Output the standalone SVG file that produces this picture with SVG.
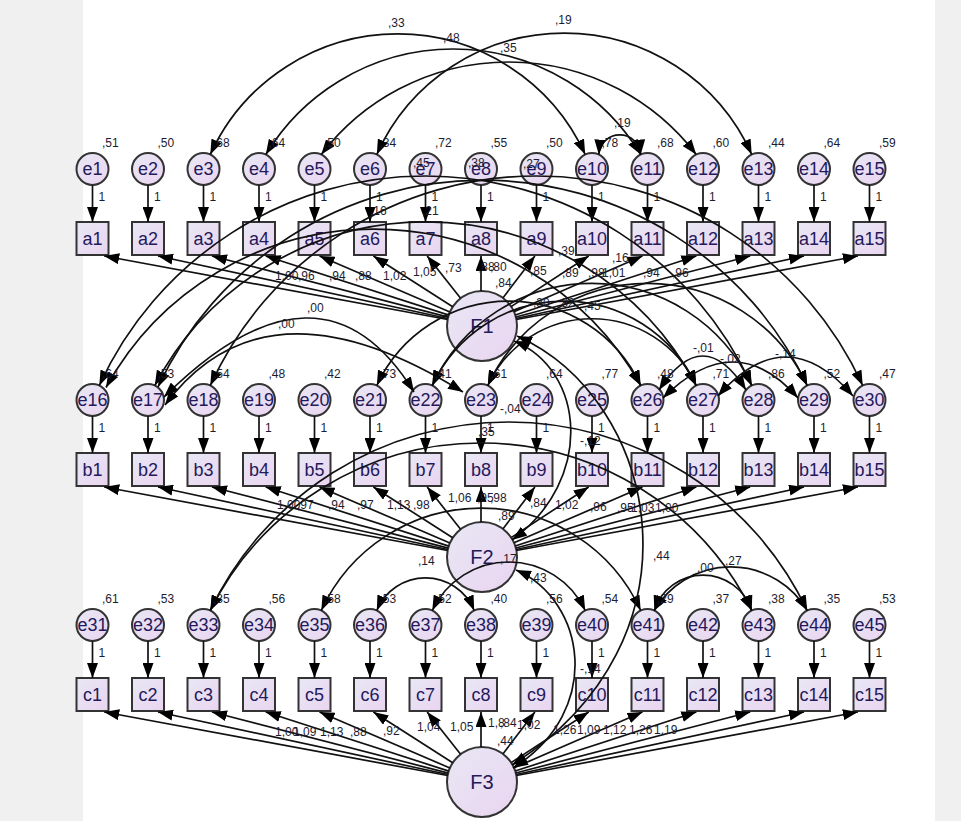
<svg xmlns="http://www.w3.org/2000/svg" width="961" height="821" viewBox="0 0 961 821">
<defs>
<linearGradient id="g" x1="0" y1="0" x2="1" y2="1"><stop offset="0" stop-color="#e8e8f5"/><stop offset="1" stop-color="#ead4f0"/></linearGradient>
<marker id="ar" viewBox="0 0 15 11" refX="15" refY="5.5" markerWidth="15" markerHeight="11" markerUnits="userSpaceOnUse" orient="auto-start-reverse"><path d="M0,0L15,5.5L0,11z" fill="#000"/></marker>
<style>
.nd circle,.nd rect{fill:url(#g);stroke:#333;stroke-width:2}
.nd text{font-family:"Liberation Sans",Arial,sans-serif;font-size:18px;fill:#24195a;text-anchor:middle}
.lt text{font-size:20px}
.cn path{fill:none;stroke:#111;stroke-width:1.7}
.one{marker-end:url(#ar)}
.two{marker-start:url(#ar);marker-end:url(#ar)}
.num text{font-family:"Liberation Sans",Arial,sans-serif;font-size:12px;fill:#1c1c30}
</style>
</defs>
<rect x="0" y="0" width="961" height="821" fill="#f0f0f0"/>
<rect x="83" y="0" width="852" height="821" fill="#ffffff"/>

<g id="nodes" class="nd">
<g id="e1"><circle cx="92.5" cy="169" r="16"/><text x="92.5" y="175">e1</text></g>
<g id="e2"><circle cx="148" cy="169" r="16"/><text x="148" y="175">e2</text></g>
<g id="e3"><circle cx="203.5" cy="169" r="16"/><text x="203.5" y="175">e3</text></g>
<g id="e4"><circle cx="259" cy="169" r="16"/><text x="259" y="175">e4</text></g>
<g id="e5"><circle cx="314.5" cy="169" r="16"/><text x="314.5" y="175">e5</text></g>
<g id="e6"><circle cx="370" cy="169" r="16"/><text x="370" y="175">e6</text></g>
<g id="e7"><circle cx="425.5" cy="169" r="16"/><text x="425.5" y="175">e7</text></g>
<g id="e8"><circle cx="481" cy="169" r="16"/><text x="481" y="175">e8</text></g>
<g id="e9"><circle cx="536.5" cy="169" r="16"/><text x="536.5" y="175">e9</text></g>
<g id="e10"><circle cx="592" cy="169" r="16"/><text x="592" y="175">e10</text></g>
<g id="e11"><circle cx="647.5" cy="169" r="16"/><text x="647.5" y="175">e11</text></g>
<g id="e12"><circle cx="703" cy="169" r="16"/><text x="703" y="175">e12</text></g>
<g id="e13"><circle cx="758.5" cy="169" r="16"/><text x="758.5" y="175">e13</text></g>
<g id="e14"><circle cx="814" cy="169" r="16"/><text x="814" y="175">e14</text></g>
<g id="e15"><circle cx="869.5" cy="169" r="16"/><text x="869.5" y="175">e15</text></g>

<g id="a1"><rect x="76.5" y="222" width="32" height="33"/><text x="92.5" y="245">a1</text></g>
<g id="a2"><rect x="132" y="222" width="32" height="33"/><text x="148" y="245">a2</text></g>
<g id="a3"><rect x="187.5" y="222" width="32" height="33"/><text x="203.5" y="245">a3</text></g>
<g id="a4"><rect x="243" y="222" width="32" height="33"/><text x="259" y="245">a4</text></g>
<g id="a5"><rect x="298.5" y="222" width="32" height="33"/><text x="314.5" y="245">a5</text></g>
<g id="a6"><rect x="354" y="222" width="32" height="33"/><text x="370" y="245">a6</text></g>
<g id="a7"><rect x="409.5" y="222" width="32" height="33"/><text x="425.5" y="245">a7</text></g>
<g id="a8"><rect x="465" y="222" width="32" height="33"/><text x="481" y="245">a8</text></g>
<g id="a9"><rect x="520.5" y="222" width="32" height="33"/><text x="536.5" y="245">a9</text></g>
<g id="a10"><rect x="576" y="222" width="32" height="33"/><text x="592" y="245">a10</text></g>
<g id="a11"><rect x="631.5" y="222" width="32" height="33"/><text x="647.5" y="245">a11</text></g>
<g id="a12"><rect x="687" y="222" width="32" height="33"/><text x="703" y="245">a12</text></g>
<g id="a13"><rect x="742.5" y="222" width="32" height="33"/><text x="758.5" y="245">a13</text></g>
<g id="a14"><rect x="798" y="222" width="32" height="33"/><text x="814" y="245">a14</text></g>
<g id="a15"><rect x="853.5" y="222" width="32" height="33"/><text x="869.5" y="245">a15</text></g>

<g id="e16"><circle cx="92.5" cy="400" r="16"/><text x="92.5" y="406">e16</text></g>
<g id="e17"><circle cx="148" cy="400" r="16"/><text x="148" y="406">e17</text></g>
<g id="e18"><circle cx="203.5" cy="400" r="16"/><text x="203.5" y="406">e18</text></g>
<g id="e19"><circle cx="259" cy="400" r="16"/><text x="259" y="406">e19</text></g>
<g id="e20"><circle cx="314.5" cy="400" r="16"/><text x="314.5" y="406">e20</text></g>
<g id="e21"><circle cx="370" cy="400" r="16"/><text x="370" y="406">e21</text></g>
<g id="e22"><circle cx="425.5" cy="400" r="16"/><text x="425.5" y="406">e22</text></g>
<g id="e23"><circle cx="481" cy="400" r="16"/><text x="481" y="406">e23</text></g>
<g id="e24"><circle cx="536.5" cy="400" r="16"/><text x="536.5" y="406">e24</text></g>
<g id="e25"><circle cx="592" cy="400" r="16"/><text x="592" y="406">e25</text></g>
<g id="e26"><circle cx="647.5" cy="400" r="16"/><text x="647.5" y="406">e26</text></g>
<g id="e27"><circle cx="703" cy="400" r="16"/><text x="703" y="406">e27</text></g>
<g id="e28"><circle cx="758.5" cy="400" r="16"/><text x="758.5" y="406">e28</text></g>
<g id="e29"><circle cx="814" cy="400" r="16"/><text x="814" y="406">e29</text></g>
<g id="e30"><circle cx="869.5" cy="400" r="16"/><text x="869.5" y="406">e30</text></g>

<g id="b1"><rect x="76.5" y="453" width="32" height="33"/><text x="92.5" y="476">b1</text></g>
<g id="b2"><rect x="132" y="453" width="32" height="33"/><text x="148" y="476">b2</text></g>
<g id="b3"><rect x="187.5" y="453" width="32" height="33"/><text x="203.5" y="476">b3</text></g>
<g id="b4"><rect x="243" y="453" width="32" height="33"/><text x="259" y="476">b4</text></g>
<g id="b5"><rect x="298.5" y="453" width="32" height="33"/><text x="314.5" y="476">b5</text></g>
<g id="b6"><rect x="354" y="453" width="32" height="33"/><text x="370" y="476">b6</text></g>
<g id="b7"><rect x="409.5" y="453" width="32" height="33"/><text x="425.5" y="476">b7</text></g>
<g id="b8"><rect x="465" y="453" width="32" height="33"/><text x="481" y="476">b8</text></g>
<g id="b9"><rect x="520.5" y="453" width="32" height="33"/><text x="536.5" y="476">b9</text></g>
<g id="b10"><rect x="576" y="453" width="32" height="33"/><text x="592" y="476">b10</text></g>
<g id="b11"><rect x="631.5" y="453" width="32" height="33"/><text x="647.5" y="476">b11</text></g>
<g id="b12"><rect x="687" y="453" width="32" height="33"/><text x="703" y="476">b12</text></g>
<g id="b13"><rect x="742.5" y="453" width="32" height="33"/><text x="758.5" y="476">b13</text></g>
<g id="b14"><rect x="798" y="453" width="32" height="33"/><text x="814" y="476">b14</text></g>
<g id="b15"><rect x="853.5" y="453" width="32" height="33"/><text x="869.5" y="476">b15</text></g>

<g id="e31"><circle cx="92.5" cy="625" r="16"/><text x="92.5" y="631">e31</text></g>
<g id="e32"><circle cx="148" cy="625" r="16"/><text x="148" y="631">e32</text></g>
<g id="e33"><circle cx="203.5" cy="625" r="16"/><text x="203.5" y="631">e33</text></g>
<g id="e34"><circle cx="259" cy="625" r="16"/><text x="259" y="631">e34</text></g>
<g id="e35"><circle cx="314.5" cy="625" r="16"/><text x="314.5" y="631">e35</text></g>
<g id="e36"><circle cx="370" cy="625" r="16"/><text x="370" y="631">e36</text></g>
<g id="e37"><circle cx="425.5" cy="625" r="16"/><text x="425.5" y="631">e37</text></g>
<g id="e38"><circle cx="481" cy="625" r="16"/><text x="481" y="631">e38</text></g>
<g id="e39"><circle cx="536.5" cy="625" r="16"/><text x="536.5" y="631">e39</text></g>
<g id="e40"><circle cx="592" cy="625" r="16"/><text x="592" y="631">e40</text></g>
<g id="e41"><circle cx="647.5" cy="625" r="16"/><text x="647.5" y="631">e41</text></g>
<g id="e42"><circle cx="703" cy="625" r="16"/><text x="703" y="631">e42</text></g>
<g id="e43"><circle cx="758.5" cy="625" r="16"/><text x="758.5" y="631">e43</text></g>
<g id="e44"><circle cx="814" cy="625" r="16"/><text x="814" y="631">e44</text></g>
<g id="e45"><circle cx="869.5" cy="625" r="16"/><text x="869.5" y="631">e45</text></g>

<g id="c1"><rect x="76.5" y="678" width="32" height="33"/><text x="92.5" y="701">c1</text></g>
<g id="c2"><rect x="132" y="678" width="32" height="33"/><text x="148" y="701">c2</text></g>
<g id="c3"><rect x="187.5" y="678" width="32" height="33"/><text x="203.5" y="701">c3</text></g>
<g id="c4"><rect x="243" y="678" width="32" height="33"/><text x="259" y="701">c4</text></g>
<g id="c5"><rect x="298.5" y="678" width="32" height="33"/><text x="314.5" y="701">c5</text></g>
<g id="c6"><rect x="354" y="678" width="32" height="33"/><text x="370" y="701">c6</text></g>
<g id="c7"><rect x="409.5" y="678" width="32" height="33"/><text x="425.5" y="701">c7</text></g>
<g id="c8"><rect x="465" y="678" width="32" height="33"/><text x="481" y="701">c8</text></g>
<g id="c9"><rect x="520.5" y="678" width="32" height="33"/><text x="536.5" y="701">c9</text></g>
<g id="c10"><rect x="576" y="678" width="32" height="33"/><text x="592" y="701">c10</text></g>
<g id="c11"><rect x="631.5" y="678" width="32" height="33"/><text x="647.5" y="701">c11</text></g>
<g id="c12"><rect x="687" y="678" width="32" height="33"/><text x="703" y="701">c12</text></g>
<g id="c13"><rect x="742.5" y="678" width="32" height="33"/><text x="758.5" y="701">c13</text></g>
<g id="c14"><rect x="798" y="678" width="32" height="33"/><text x="814" y="701">c14</text></g>
<g id="c15"><rect x="853.5" y="678" width="32" height="33"/><text x="869.5" y="701">c15</text></g>

<g id="F1" class="lt"><circle cx="482" cy="326" r="35"/><text x="482" y="333">F1</text></g>
<g id="F2" class="lt"><circle cx="482" cy="557" r="35"/><text x="482" y="564">F2</text></g>
<g id="F3" class="lt"><circle cx="482" cy="782" r="35"/><text x="482" y="789">F3</text></g>
</g>

<g id="connectors" class="cn">
<g id="err-paths-1" class="one">
<path d="M92.5,185V222"/><path d="M148,185V222"/><path d="M203.5,185V222"/><path d="M259,185V222"/><path d="M314.5,185V222"/>
<path d="M370,185V222"/><path d="M425.5,185V222"/><path d="M481,185V222"/><path d="M536.5,185V222"/><path d="M592,185V222"/>
<path d="M647.5,185V222"/><path d="M703,185V222"/><path d="M758.5,185V222"/><path d="M814,185V222"/><path d="M869.5,185V222"/>
</g>
<g id="err-paths-2" class="one" transform="translate(0,231)">
<path d="M92.5,185V222"/><path d="M148,185V222"/><path d="M203.5,185V222"/><path d="M259,185V222"/><path d="M314.5,185V222"/>
<path d="M370,185V222"/><path d="M425.5,185V222"/><path d="M481,185V222"/><path d="M536.5,185V222"/><path d="M592,185V222"/>
<path d="M647.5,185V222"/><path d="M703,185V222"/><path d="M758.5,185V222"/><path d="M814,185V222"/><path d="M869.5,185V222"/>
</g>
<g id="err-paths-3" class="one" transform="translate(0,456)">
<path d="M92.5,185V222"/><path d="M148,185V222"/><path d="M203.5,185V222"/><path d="M259,185V222"/><path d="M314.5,185V222"/>
<path d="M370,185V222"/><path d="M425.5,185V222"/><path d="M481,185V222"/><path d="M536.5,185V222"/><path d="M592,185V222"/>
<path d="M647.5,185V222"/><path d="M703,185V222"/><path d="M758.5,185V222"/><path d="M814,185V222"/><path d="M869.5,185V222"/>
</g>

<g id="loadings-F1" class="one">
<path d="M447.6,319.5L104.2,256"/><path d="M447.8,318.5L158,256"/><path d="M448.2,317.1L211.9,256"/><path d="M448.8,315.1L265.7,256"/><path d="M449.9,312L319.5,256"/>
<path d="M452.7,306.8L373.4,256"/><path d="M460.6,298.3L427.2,256"/><path d="M481,291L481,256"/><path d="M502.9,297.9L534.9,256"/><path d="M511.1,306.6L588.7,256"/>
<path d="M514,311.8L642.5,256"/><path d="M515.2,315L696.4,256"/><path d="M515.8,317L750.2,256"/><path d="M516.2,318.5L804,256"/><path d="M516.4,319.5L857.9,256"/>
</g>
<g id="loadings-F2" class="one" transform="translate(0,231)">
<path d="M447.6,319.5L104.2,256"/><path d="M447.8,318.5L158,256"/><path d="M448.2,317.1L211.9,256"/><path d="M448.8,315.1L265.7,256"/><path d="M449.9,312L319.5,256"/>
<path d="M452.7,306.8L373.4,256"/><path d="M460.6,298.3L427.2,256"/><path d="M481,291L481,256"/><path d="M502.9,297.9L534.9,256"/><path d="M511.1,306.6L588.7,256"/>
<path d="M514,311.8L642.5,256"/><path d="M515.2,315L696.4,256"/><path d="M515.8,317L750.2,256"/><path d="M516.2,318.5L804,256"/><path d="M516.4,319.5L857.9,256"/>
</g>
<g id="loadings-F3" class="one" transform="translate(0,456)">
<path d="M447.6,319.5L104.2,256"/><path d="M447.8,318.5L158,256"/><path d="M448.2,317.1L211.9,256"/><path d="M448.8,315.1L265.7,256"/><path d="M449.9,312L319.5,256"/>
<path d="M452.7,306.8L373.4,256"/><path d="M460.6,298.3L427.2,256"/><path d="M481,291L481,256"/><path d="M502.9,297.9L534.9,256"/><path d="M511.1,306.6L588.7,256"/>
<path d="M514,311.8L642.5,256"/><path d="M515.2,315L696.4,256"/><path d="M515.8,317L750.2,256"/><path d="M516.2,318.5L804,256"/><path d="M516.4,319.5L857.9,256"/>
</g>

<g id="covariances" class="two">
<path d="M210.3,154.5A206,206 0 0 1 585.2,154.5"/>
<path d="M265.8,154.5A219.3,219.3 0 0 1 640.7,154.5"/>
<path d="M321.3,154.5A236.2,236.2 0 0 1 696.2,154.5"/>
<path d="M376.8,154.5A205.4,205.4 0 0 1 751.7,154.5"/>
<path d="M598.8,154.5A21,21 0 0 1 640.7,154.5"/>

<path d="M99.3,385.5A358.7,358.7 0 0 1 751.7,385.5"/>
<path d="M106,387.5A305.8,305.8 0 0 1 640.7,385.5"/>
<path d="M154.8,385.5A305.8,305.8 0 0 1 696.2,385.5"/>
<path d="M158,387A358.7,358.7 0 0 1 807.2,385.5"/>
<path d="M210.3,385.5A358.7,358.7 0 0 1 862.7,385.5"/>
<path d="M164,397Q321,241.5 414,392"/>
<path d="M165,405Q266,269.5 463,392"/>
<path d="M376.8,385.5A145.3,145.3 0 0 1 640.7,385.5"/>
<path d="M432.3,385.5A145.3,145.3 0 0 1 696.2,385.5"/>
<path d="M432.3,385.5A176,176 0 0 1 751.7,385.5"/>
<path d="M487.8,385.5A114.7,114.7 0 0 1 696.2,385.5"/>
<path d="M487.8,385.5A176,176 0 0 1 807.2,385.5"/>
<path d="M659,390Q703,322 746,390"/>
<path d="M663,398Q735,326 798,398"/>
<path d="M718,396Q786,318 853,396"/>

<path d="M210.3,610.5A302.5,302.5 0 0 1 751.7,610.5"/>
<path d="M210.3,610.5A330.5,330.5 0 0 1 807.2,610.5"/>
<path d="M321.3,610.5A175.7,175.7 0 0 1 640.7,610.5"/>
<path d="M376.8,610.5A52.7,52.7 0 0 1 474.2,610.5"/>
<path d="M432.3,610.5A84.5,84.5 0 0 1 585.2,610.5"/>
<path d="M654.3,610.5A51.2,51.2 0 0 1 751.7,610.5"/>
<path d="M654.3,610.5A88.9,88.9 0 0 1 807.2,610.5"/>

<path d="M514,341C585,370 595,480 512,540"/>
<path d="M517,336C660,400 710,640 512,765"/>
<path d="M516,570C585,600 605,710 513,768"/>
</g>
</g>

<g id="labels" class="num">
<text x="102" y="147">,51</text><text x="157.5" y="147">,50</text><text x="213" y="147">,68</text><text x="268.5" y="147">,64</text><text x="324" y="147">,50</text>
<text x="379.5" y="147">,34</text><text x="435" y="147">,72</text><text x="490.5" y="147">,55</text><text x="546" y="147">,50</text><text x="601.5" y="147">,78</text>
<text x="657" y="147">,68</text><text x="712.5" y="147">,60</text><text x="768" y="147">,44</text><text x="823.5" y="147">,64</text><text x="879" y="147">,59</text>

<text x="102" y="378">,64</text><text x="157.5" y="378">,53</text><text x="213" y="378">,54</text><text x="268.5" y="378">,48</text><text x="324" y="378">,42</text>
<text x="379.5" y="378">,73</text><text x="435" y="378">,41</text><text x="490.5" y="378">,61</text><text x="546" y="378">,64</text><text x="601.5" y="378">,77</text>
<text x="657" y="378">,48</text><text x="712.5" y="378">,71</text><text x="768" y="378">,86</text><text x="823.5" y="378">,52</text><text x="879" y="378">,47</text>

<text x="102" y="603">,61</text><text x="157.5" y="603">,53</text><text x="213" y="603">,35</text><text x="268.5" y="603">,56</text><text x="324" y="603">,58</text>
<text x="379.5" y="603">,53</text><text x="435" y="603">,52</text><text x="490.5" y="603">,40</text><text x="546" y="603">,56</text><text x="601.5" y="603">,54</text>
<text x="657" y="603">,29</text><text x="712.5" y="603">,37</text><text x="768" y="603">,38</text><text x="823.5" y="603">,35</text><text x="879" y="603">,53</text>

<text x="98.5" y="201">1</text><text x="154" y="201">1</text><text x="209.5" y="201">1</text><text x="265" y="201">1</text><text x="320.5" y="201">1</text>
<text x="376" y="201">1</text><text x="431.5" y="201">1</text><text x="487" y="201">1</text><text x="542.5" y="201">1</text><text x="598" y="201">1</text>
<text x="653.5" y="201">1</text><text x="709" y="201">1</text><text x="764.5" y="201">1</text><text x="820" y="201">1</text><text x="875.5" y="201">1</text>
<text x="98.5" y="432">1</text><text x="154" y="432">1</text><text x="209.5" y="432">1</text><text x="265" y="432">1</text><text x="320.5" y="432">1</text>
<text x="376" y="432">1</text><text x="431.5" y="432">1</text><text x="487" y="432">1</text><text x="542.5" y="432">1</text><text x="598" y="432">1</text>
<text x="653.5" y="432">1</text><text x="709" y="432">1</text><text x="764.5" y="432">1</text><text x="820" y="432">1</text><text x="875.5" y="432">1</text>
<text x="98.5" y="657">1</text><text x="154" y="657">1</text><text x="209.5" y="657">1</text><text x="265" y="657">1</text><text x="320.5" y="657">1</text>
<text x="376" y="657">1</text><text x="431.5" y="657">1</text><text x="487" y="657">1</text><text x="542.5" y="657">1</text><text x="598" y="657">1</text>
<text x="653.5" y="657">1</text><text x="709" y="657">1</text><text x="764.5" y="657">1</text><text x="820" y="657">1</text><text x="875.5" y="657">1</text>

<text x="388" y="27">,33</text><text x="443" y="42">,48</text><text x="500" y="52">,35</text><text x="555" y="24">,19</text><text x="614" y="127">,19</text>
<text x="413" y="167">,45</text><text x="468" y="167">,38</text><text x="523" y="168">,27</text><text x="370" y="215">,16</text><text x="422" y="215">,21</text>
<text x="307" y="312">,00</text><text x="278" y="328">,00</text>
<text x="693" y="352">-,01</text><text x="720" y="363">-,02</text><text x="775" y="358">-,14</text>
<text x="533" y="307">,30</text><text x="558" y="307">,82</text><text x="584" y="310">,45</text>
<text x="558" y="255">,39</text><text x="612" y="262">,16</text>
<text x="500" y="413">-,04</text><text x="478" y="436">,35</text><text x="580" y="445">-,12</text>
<text x="653" y="560">,44</text><text x="725" y="565">,27</text><text x="697" y="572">,00</text><text x="418" y="565">,14</text>
<text x="530" y="582">,43</text><text x="500" y="563">,17</text><text x="580" y="673">-,14</text>
<text x="495" y="287">,84</text><text x="498" y="520">,89</text><text x="497" y="745">,44</text>

<text x="275" y="280">1,00</text><text x="298" y="280">,96</text><text x="329" y="280">,94</text><text x="355" y="280">,88</text><text x="383" y="280">1,02</text>
<text x="413" y="276">1,05</text><text x="445" y="272">,73</text><text x="478" y="271">,88</text><text x="490" y="271">,80</text><text x="530" y="275">,85</text>
<text x="562" y="277">,89</text><text x="588" y="277">,98</text><text x="602" y="277">1,01</text><text x="643" y="277">,94</text><text x="672" y="277">,96</text>

<text x="277" y="509">1,00</text><text x="297" y="509">,97</text><text x="328" y="509">,94</text><text x="357" y="509">,97</text><text x="387" y="509">1,13</text>
<text x="413" y="509">,98</text><text x="448" y="502">1,06</text><text x="477" y="502">,95</text><text x="490" y="502">,98</text><text x="530" y="507">,84</text>
<text x="555" y="509">1,02</text><text x="590" y="511">,96</text><text x="617" y="512">,95</text><text x="631" y="512">1,03</text><text x="655" y="512">1,00</text>

<text x="275" y="736">1,00</text><text x="293" y="736">1,09</text><text x="320" y="736">1,13</text><text x="350" y="736">,88</text><text x="383" y="735">,92</text>
<text x="417" y="731">1,04</text><text x="450" y="731">1,05</text><text x="488" y="727">1,8</text><text x="500" y="727">,84</text><text x="517" y="729">1,02</text>
<text x="553" y="734">1,26</text><text x="577" y="734">1,09</text><text x="603" y="734">1,12</text><text x="629" y="734">1,26</text><text x="654" y="734">1,19</text>
</g>
</svg>
